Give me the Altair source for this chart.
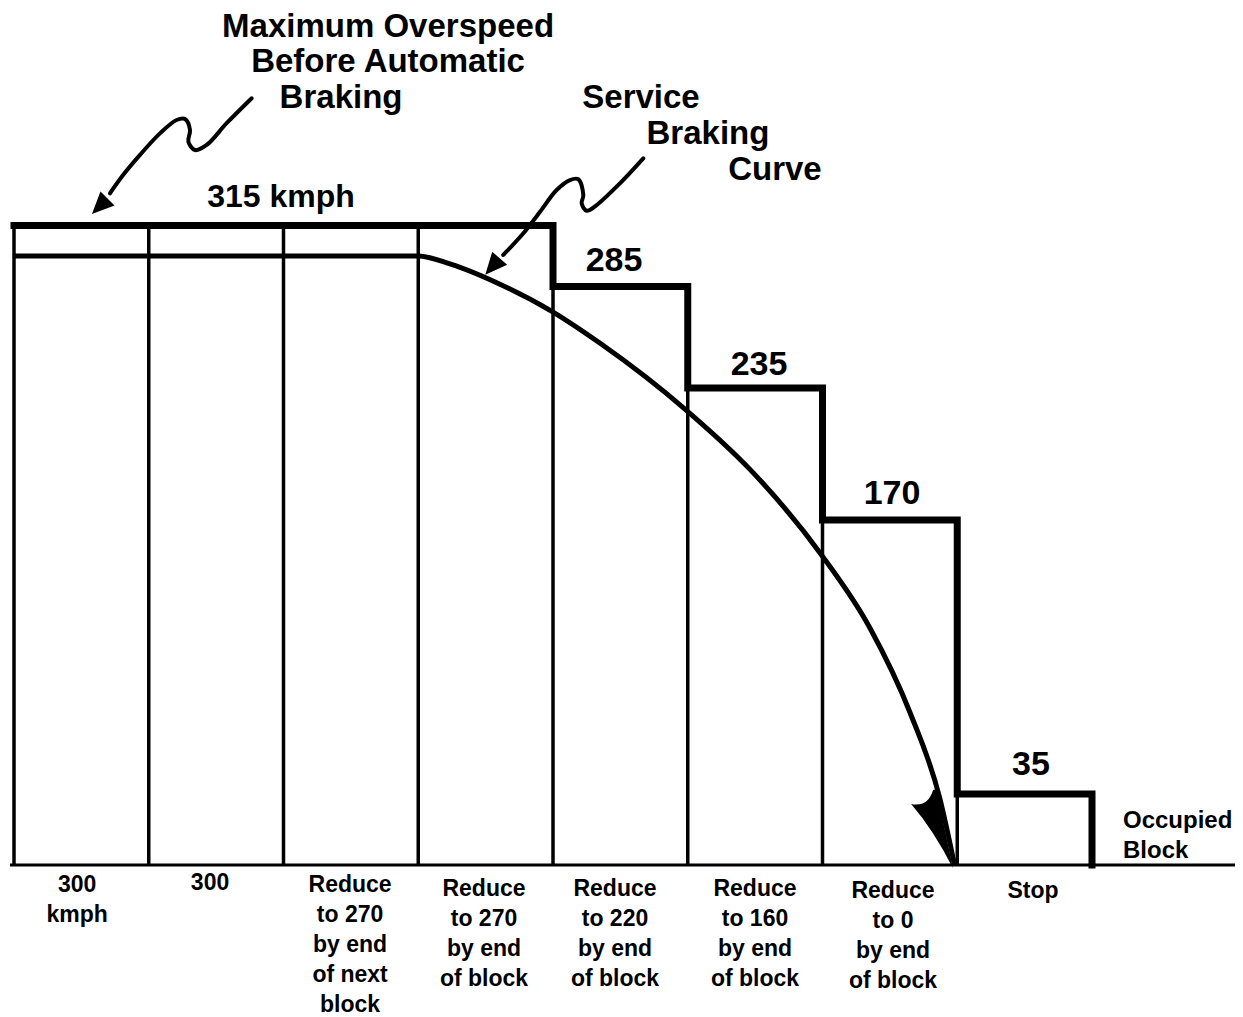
import altair as alt
import pandas as pd

# ---------------- layout constants (pixels of the plot area) ----------------
W, H = 1227, 1009
X0_PX, BLOCK_PX = 6.0, 134.75      # where block 0 starts, width of one block
Y0_PX, KMPH_PX = 857.0, 2.03       # where 0 kmph sits, pixels per kmph
FONT = "Liberation Sans"

# ---------------- data ----------------
# block dividers and how high each thin divider reaches (kmph)
divider_b = [0, 1, 2, 3, 4, 5, 6, 7]
divider_top = [315, 315, 315, 315, 285, 235, 170, 35]

# maximum overspeed before automatic braking (thick stepped line)
step_b = [0, 4, 4, 5, 5, 6, 6, 7, 7, 8, 8]
step_v = [315, 315, 285, 285, 235, 235, 170, 170, 35, 35, 0]

# 300 kmph running line and the service braking curve
curve_b = [0, 3, 3.24, 3.61, 3.985, 4.35, 4.99, 5.46, 5.99, 6.35, 6.65, 6.87, 6.98]
curve_v = [300, 300, 296, 286, 273, 257, 224, 195, 153, 117, 75, 33, 0]

# ground line
ground_b = [-0.03, 9.1]

# squiggly annotation arrows (block, kmph)
sq1_b = [1.764, 1.578, 1.430, 1.343, 1.294, 1.306, 1.269, 1.207, 1.083, 0.935, 0.811, 0.712]
sq1_v = [377.7, 365.4, 354.7, 352.2, 356.3, 362.1, 367.5, 367.0, 360.4, 349.8, 340.0, 330.9]
sq2_b = [4.670, 4.497, 4.324, 4.250, 4.213, 4.225, 4.188, 4.126, 4.027, 3.904, 3.780, 3.631]
sq2_v = [348.1, 335.8, 325.1, 322.3, 325.9, 330.0, 337.8, 337.4, 332.5, 321.8, 311.2, 300.5]

# arrow heads
head_b = [0.636, 3.551]
head_v = [324.5, 294.8]
head_angle = [225, 221]
barb_b = [6.909]
barb_v = [15.3]
barb_angle = [167]

# annotation texts
note_text = ["Maximum Overspeed", "Before Automatic", "Braking", "Service", "Braking", "Curve"]
note_b = [2.776, 2.776, 2.427, 4.653, 5.150, 5.647]
note_v = [412.8, 395.6, 377.8, 377.8, 360.1, 342.4]

level_text = ["315 kmph", "285", "235", "170", "35"]
level_b = [1.981, 4.453, 5.529, 6.516, 7.547]
level_v = [329.1, 297.5, 246.3, 182.8, 49.3]
level_size = [32, 34, 34, 34, 34]

block_text = [
    "300\nkmph",
    "300",
    "Reduce\nto 270\nby end\nof next\nblock",
    "Reduce\nto 270\nby end\nof block",
    "Reduce\nto 220\nby end\nof block",
    "Reduce\nto 160\nby end\nof block",
    "Reduce\nto 0\nby end\nof block",
    "Stop",
]
block_label_b = [0.468, 1.455, 2.494, 3.488, 4.460, 5.499, 6.523, 7.562]
block_label_v = [-13.3, -12.3, -13.3, -15.3, -15.3, -15.3, -16.3, -16.3]

occupied_text = ["Occupied\nBlock"]
occupied_b = [8.230]
occupied_v = [18.2]

# ---------------- scales ----------------
xs = alt.Scale(domain=[-X0_PX / BLOCK_PX, (W - X0_PX) / BLOCK_PX], nice=False, zero=False)
ys = alt.Scale(domain=[(Y0_PX - H) / KMPH_PX, Y0_PX / KMPH_PX], nice=False, zero=False)


def X(f="b"):
    return alt.X(f, type="quantitative", scale=xs, axis=None)


def Y(f="v"):
    return alt.Y(f, type="quantitative", scale=ys, axis=None)


dividers = pd.DataFrame({"b": divider_b, "v": [0] * len(divider_b), "v2": divider_top})
steps = pd.DataFrame({"b": step_b, "v": step_v, "i": range(len(step_b))})
curve = pd.DataFrame({"b": curve_b, "v": curve_v, "i": range(len(curve_b))})
ground = pd.DataFrame({"b": [ground_b[0]], "b2": [ground_b[1]], "v": [0]})
squig = pd.concat([
    pd.DataFrame({"b": sq1_b, "v": sq1_v, "id": "a", "i": range(len(sq1_b))}),
    pd.DataFrame({"b": sq2_b, "v": sq2_v, "id": "b", "i": range(len(sq2_b))}),
])
heads = pd.DataFrame({"b": head_b, "v": head_v, "a": head_angle})
barb = pd.DataFrame({"b": barb_b, "v": barb_v, "a": barb_angle})
notes = pd.DataFrame({"t": note_text, "b": note_b, "v": note_v})
levels = pd.DataFrame({"t": level_text, "b": level_b, "v": level_v, "s": level_size})
blocks = pd.DataFrame({"t": block_text, "b": block_label_b, "v": block_label_v})
occupied = pd.DataFrame({"t": occupied_text, "b": occupied_b, "v": occupied_v})

divider_layer = alt.Chart(dividers).mark_rule(color="black", strokeWidth=3.5).encode(
    x=X(), y=Y(), y2="v2"
)
ground_layer = alt.Chart(ground).mark_rule(color="black", strokeWidth=3).encode(
    x=X(), x2="b2", y=Y()
)
curve_layer = alt.Chart(curve).mark_line(
    color="black", strokeWidth=5, interpolate="monotone"
).encode(x=X(), y=Y(), order="i:Q")
step_layer = alt.Chart(steps).mark_line(
    color="black", strokeWidth=7, strokeJoin="miter", strokeCap="square"
).encode(x=X(), y=Y(), order="i:Q")
squig_layer = alt.Chart(squig).mark_line(
    color="black", strokeWidth=4, interpolate="catmull-rom", strokeCap="round"
).encode(x=X(), y=Y(), detail="id:N", order="i:Q")
head_layer = alt.Chart(heads).mark_point(
    shape="M0,-1L0.9,1L-0.9,1Z", filled=True, color="black", opacity=1, size=484
).encode(x=X(), y=Y(), angle=alt.Angle("a:Q", scale=None))
barb_layer = alt.Chart(barb).mark_point(
    shape="M0,-1Q0.3,0.2 0.75,1.05Q0.3,0.85 0.05,1.3L-0.05,1.3Z",
    filled=True, color="black", opacity=1, size=4900,
).encode(x=X(), y=Y(), angle=alt.Angle("a:Q", scale=None))

note_layer = alt.Chart(notes).mark_text(
    font=FONT, fontWeight="bold", fontSize=33, color="black", baseline="middle", align="center"
).encode(x=X(), y=Y(), text="t:N")
level_layer = alt.Chart(levels).mark_text(
    font=FONT, fontWeight="bold", color="black", baseline="middle", align="center"
).encode(x=X(), y=Y(), text="t:N", size=alt.Size("s:Q", scale=None))
block_layer = alt.Chart(blocks).mark_text(
    font=FONT, fontWeight="bold", fontSize=23, color="black", baseline="alphabetic",
    align="center", lineBreak="\n", lineHeight=30,
).encode(x=X(), y=Y(), text="t:N")
occupied_layer = alt.Chart(occupied).mark_text(
    font=FONT, fontWeight="bold", fontSize=24, color="black", baseline="alphabetic",
    align="left", lineBreak="\n", lineHeight=30,
).encode(x=X(), y=Y(), text="t:N")

chart = alt.layer(
    divider_layer, ground_layer, curve_layer, step_layer, squig_layer,
    head_layer, barb_layer, note_layer, level_layer, block_layer, occupied_layer,
).properties(
    width=W, height=H, autosize=alt.AutoSizeParams(type="none"), padding=0,
    background="white",
).configure_view(stroke=None)

chart.save("out.html", embed_options={"renderer": "svg", "actions": False})
